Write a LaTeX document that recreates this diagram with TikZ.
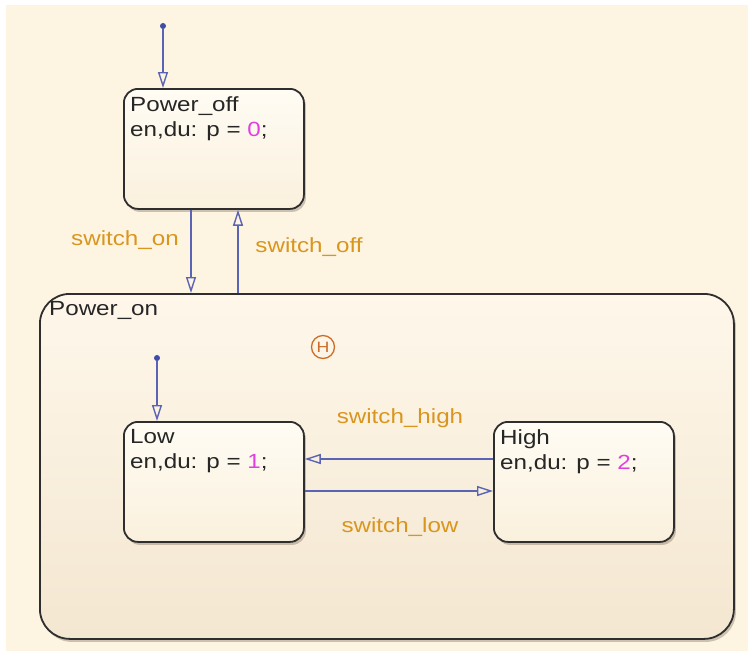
\documentclass[tikz,border=0pt]{standalone}
\usepackage{fontspec}
\setmainfont{Liberation Sans}[FakeStretch=1.18]
\usepackage{tikz}
\usetikzlibrary{positioning,arrows.meta,shadows,calc}
\definecolor{SFbg}{RGB}{254,244,226}
\definecolor{SFtop}{RGB}{255,252,244}
\definecolor{SFbot}{RGB}{250,240,221}
\definecolor{SFouttop}{RGB}{254,247,234}
\definecolor{SFoutbot}{RGB}{244,231,209}
\definecolor{SFedge}{RGB}{46,46,46}
\definecolor{SFblue}{RGB}{90,99,180}
\definecolor{SFdot}{RGB}{63,76,168}
\definecolor{SFlabel}{RGB}{217,150,30}
\definecolor{SFnum}{RGB}{224,64,224}
\definecolor{SFhist}{RGB}{205,110,40}
\newcommand{\pval}[1]{\textcolor{SFnum}{#1}}

\begin{document}
\begin{tikzpicture}[
    x=1pt, y=-1pt,
    font=\fontsize{20.5}{25}\selectfont,
    state/.style={rectangle,rounded corners=14pt,draw=SFedge,line width=1.8pt,
        top color=SFtop,bottom color=SFbot,minimum width=180pt,minimum height=120pt,
        drop shadow={shadow xshift=2pt,shadow yshift=-3pt,opacity=0.25,fill=black!70!brown}},
    superstate/.style={state,rounded corners=30pt,top color=SFouttop,bottom color=SFoutbot,
        minimum width=694pt,minimum height=345pt},
    statetext/.style={anchor=north west,align=left,inner sep=0pt,text=black!85},
    trans/.style={draw=SFblue,line width=1.4pt,-{Triangle[open,length=16pt,width=10pt]}},
    startdot/.style={circle,fill=SFdot,inner sep=0pt,minimum size=6pt},
    translabel/.style={text=SFlabel},
    histjunc/.style={circle,draw=SFhist,line width=1.3pt,minimum size=23pt,inner sep=0pt,
        text=SFhist,font=\fontsize{15}{15}\selectfont}
]
\useasboundingbox (0,0) rectangle (748,651);
\fill[SFbg] (6,5) rectangle (748,651);

\node[superstate,anchor=north west] (on) at (39,293) {};
\node[state,anchor=north west] (off) at (123,88) {};
\node[state,anchor=north west] (low) at (123,421) {};
\node[state,anchor=north west] (high) at (493,421) {};

\node[statetext] (offtxt) at ([xshift=7pt,yshift=-8pt]off.north west) {Power\_off\\en,du: p = \pval{0};};
\node[statetext] (ontxt) at ([xshift=10pt,yshift=-8pt]on.north west) {Power\_on};
\node[statetext] (lowtxt) at ([xshift=7pt,yshift=-8pt]low.north west) {Low\\en,du: p = \pval{1};};
\node[statetext] (hightxt) at ([xshift=7pt,yshift=-8pt]high.north west) {High\\en,du: p = \pval{2};};

\node[histjunc] (hist) at (323,347) {H};

\node[startdot] (start1) at (163,26) {};
\node[startdot] (start2) at (157,358) {};
\draw[trans] (start1) -- (start1 |- off.north);
\draw[trans] (start2) -- (start2 |- low.north);

\coordinate (onsrc) at ([xshift=68pt]off.south west);
\coordinate (offdst) at ([xshift=115pt]off.south west);
\draw[trans] (onsrc) -- (onsrc |- on.north);
\draw[trans] (offdst |- on.north) -- (offdst);
\node[translabel] (onlbl) at (125,240) {switch\_on};
\node[translabel] (offlbl) at (309,247) {switch\_off};

\coordinate (hisrc) at ([yshift=-38pt]high.north west);
\coordinate (losrc) at ([yshift=-70pt]low.north east);
\draw[trans] (hisrc) -- (hisrc -| low.east);
\draw[trans] (losrc) -- (losrc -| high.west);
\node[translabel] (hilbl) at (400,418) {switch\_high};
\node[translabel] (lolbl) at (400,527) {switch\_low};
\end{tikzpicture}
\end{document}
